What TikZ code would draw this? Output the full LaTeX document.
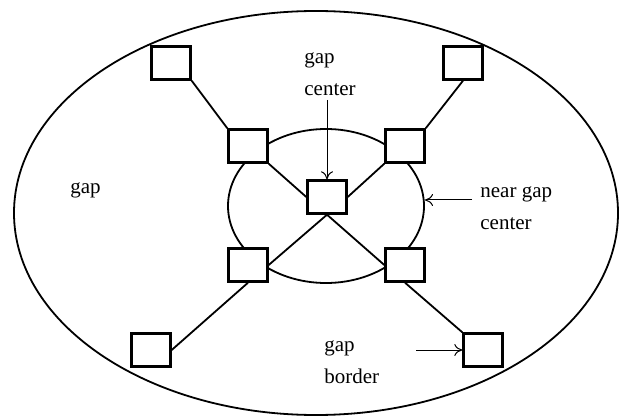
\documentclass[tikz,border=0pt]{standalone}
\usepackage{fontspec}
\setmainfont{Liberation Serif}
\usetikzlibrary{arrows.meta}
\begin{document}
\begin{tikzpicture}[x=0.5pt, y=-0.5pt,
  box/.style={draw, fill=white, line width=1.2pt, minimum width=19.5pt, minimum height=16.5pt, inner sep=0pt},
  link/.style={line width=0.9pt},
  lbl/.style={align=left, inner sep=0pt, font=\fontsize{10.5}{16}\selectfont},
  pointer/.style={-{To[length=4pt, width=6pt]}, line width=0.5pt}]
  \useasboundingbox (0,0) rectangle (619,416);

  % the two regions
  \draw[link] (316,213) ellipse [x radius=302, y radius=202];
  \draw[link] (326,206) ellipse [x radius=98, y radius=77];

  % boxes
  \node (c)  [box] at (327,197) {};
  \node (i1) [box] at (248,146) {};
  \node (i2) [box] at (405,146) {};
  \node (i3) [box] at (248,265) {};
  \node (i4) [box] at (405,265) {};
  \node (o1) [box] at (171,63) {};
  \node (o2) [box] at (463,63) {};
  \node (o3) [box] at (151,350) {};
  \node (o4) [box] at (483,350) {};

  \draw[link] (o1.south east) -- (i1.north west);
  \draw[link] (o2.south) -- (i2.north east);
  \draw[link] (o3.east) -- (i3.south);
  \draw[link] (o4.north west) -- (i4.south);
  \draw[link] (i1.south east) -- (c.west);
  \draw[link] (i2.south west) -- (c.east);
  \draw[link] (c.south) -- (i3.east);
  \draw[link] (c.south) -- (i4.west);

  % labels
  \node (gap) [lbl, anchor=west] at (70,190) {gap};
  \node (gc) [lbl, anchor=west] at (304,74) {gap\\center};
  \node (ngc) [lbl, anchor=west] at (480,208) {near gap\\center};
  \node (gb) [lbl, anchor=west] at (324,362) {gap\\border};

  \coordinate (p1) at (327,100);
  \coordinate (p2) at (472,200);
  \coordinate (e)  at (425,200);
  \coordinate (p3) at (416,350);
  \draw[pointer] (p1) -- (c.north);
  \draw[pointer] (p2) -- (e);
  \draw[pointer] (p3) -- (o4.west);
\end{tikzpicture}
\end{document}
